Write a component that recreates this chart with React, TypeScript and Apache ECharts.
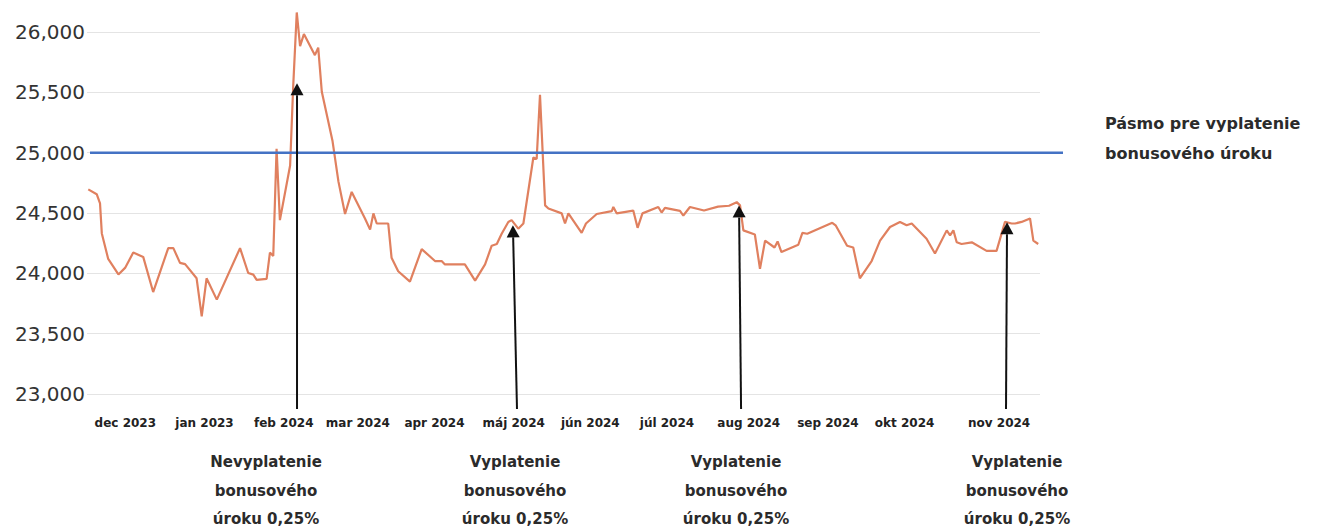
import React, { useEffect, useRef } from "react";
import * as echarts from "echarts";

// day index counted from 16 Nov 2023
const days = [
  0.5, 3.8, 5.1, 5.8, 8.3, 12.3, 14.9, 18.1, 22.0, 25.9,
  31.8, 33.8, 36.4, 38.4, 42.9, 44.9, 46.8, 50.8, 59.9, 63.1,
  65.1, 66.4, 70.3, 71.6, 72.9, 74.2, 75.5, 79.5, 80.7, 82.1,
  83.4, 84.9, 89.2, 90.5, 91.9, 96.1, 98.4, 101.0, 103.6, 108.8,
  110.8, 112.1, 113.4, 117.9, 119.2, 121.8, 126.4, 131.0, 136.2, 138.8,
  140.1, 147.9, 151.9, 155.8, 158.4, 160.4, 162.3, 164.9, 166.2, 168.8,
  170.8, 174.7, 176.0, 177.3, 179.3, 180.6, 185.8, 187.1, 188.4, 193.6,
  195.3, 199.5, 205.4, 206.0, 207.3, 213.8, 215.5, 217.4, 223.6, 224.9,
  226.2, 232.1, 233.4, 236.0, 241.5, 247.0, 251.3, 254.3, 255.6, 256.9,
  261.4, 263.4, 265.4, 269.1, 270.3, 271.8, 278.4, 280.0, 281.9, 291.7,
  293.0, 297.5, 299.9, 302.5, 307.1, 310.4, 314.3, 318.2, 320.8, 322.8,
  328.6, 331.9, 336.5, 337.8, 339.1, 340.4, 342.3, 346.3, 352.1, 356.0,
  359.3, 361.9, 363.2, 365.8, 369.1, 370.4, 372.3,
];

const values = [
  24696, 24656, 24579, 24331, 24119, 23991, 24045, 24172, 24136, 23845,
  24209, 24209, 24087, 24076, 23959, 23644, 23959, 23782, 24209, 24003,
  23989, 23946, 23954, 24172, 24144, 25032, 24441, 24894, 25547, 26162,
  25883, 25983, 25808, 25871, 25504, 25096, 24762, 24492, 24675, 24455,
  24362, 24497, 24413, 24413, 24130, 24017, 23931, 24201, 24102, 24102,
  24074, 24074, 23940, 24074, 24229, 24243, 24328, 24426, 24441, 24370,
  24413, 24960, 24947, 25480, 24563, 24537, 24497, 24413, 24497, 24335,
  24413, 24492, 24516, 24550, 24497, 24520, 24377, 24497, 24550, 24504,
  24543, 24517, 24479, 24550, 24521, 24553, 24560, 24590, 24563, 24356,
  24322, 24038, 24271, 24214, 24264, 24176, 24237, 24335, 24328, 24419,
  24398, 24229, 24214, 23959, 24102, 24271, 24384, 24426, 24398, 24413,
  24286, 24164, 24356, 24314, 24356, 24257, 24243, 24257, 24186, 24186,
  24426, 24413, 24413, 24426, 24455, 24271, 24243,
];

const monthDays = [15, 46, 77, 106, 136, 167, 197, 227, 259, 290, 320, 357];
const monthLabels = [
  "dec 2023", "jan 2023", "feb 2024", "mar 2024", "apr 2024", "máj 2024",
  "jún 2024", "júl 2024", "aug 2024", "sep 2024", "okt 2024", "nov 2024",
];

const bonusThreshold = 25000;
const thresholdLabel = ["Pásmo pre vyplatenie", "bonusového úroku"];

const arrowTipDays = [82.2, 166.7, 255.2, 360.1];
const arrowBaseDays = [82.2, 168.3, 256.0, 359.7];
const arrowTipValues = [25575, 24398, 24563, 24424];
const arrowTexts = [
  ["Nevyplatenie", "bonusového", "úroku 0,25%"],
  ["Vyplatenie", "bonusového", "úroku 0,25%"],
  ["Vyplatenie", "bonusového", "úroku 0,25%"],
  ["Vyplatenie", "bonusového", "úroku 0,25%"],
];
const textCenters = [266, 515, 736, 1017];

export default function App() {
  const ref = useRef<HTMLDivElement>(null);

  useEffect(() => {
    if (!ref.current) return;
    const chart = echarts.init(ref.current, undefined, { renderer: "svg" });
    const data = days.map((d, i) => [d, values[i]]);

    chart.setOption({
      animation: false,
      backgroundColor: "#ffffff",
      grid: { left: 87, right: 279, top: 32, bottom: 137 },
      xAxis: {
        type: "value",
        min: 0,
        max: 373,
        axisLine: { show: false },
        axisTick: { show: false },
        splitLine: { show: false },
        axisLabel: {
          customValues: monthDays,
          margin: 23,
          color: "#222222",
          fontFamily: "DejaVu Sans",
          fontWeight: "bold",
          fontSize: 12,
          formatter: (v: number) => {
            const i = monthDays.indexOf(v);
            return i >= 0 ? monthLabels[i] : "";
          },
        },
      },
      yAxis: {
        type: "value",
        min: 23000,
        max: 26000,
        interval: 500,
        axisLine: { show: false },
        axisTick: { show: false },
        splitLine: { lineStyle: { color: "#e4e4e4", width: 1 } },
        axisLabel: {
          margin: 2,
          color: "#333333",
          fontFamily: "DejaVu Sans",
          fontSize: 20,
          formatter: (v: number) => v.toLocaleString("en-US"),
        },
      },
      series: [
        {
          type: "line",
          data,
          showSymbol: false,
          clip: false,
          lineStyle: { color: "#e0805f", width: 2.2 },
          z: 3,
        },
      ],
    });

    const px = (d: number, v: number) =>
      chart.convertToPixel({ gridIndex: 0 }, [d, v]) as number[];

    const graphics: any[] = [];
    const yThr = px(0, bonusThreshold)[1];
    graphics.push({
      type: "line",
      z: 10,
      shape: { x1: 90, y1: yThr, x2: 1063, y2: yThr },
      style: { stroke: "#4472c4", lineWidth: 2.5 },
    });
    thresholdLabel.forEach((t, i) => {
      graphics.push({
        type: "text",
        z: 10,
        x: 1105,
        y: 123 + i * 30,
        style: {
          text: t,
          fill: "#2b2b2b",
          font: 'bold 16px "DejaVu Sans"',
          align: "left",
          verticalAlign: "middle",
        },
      });
    });

    arrowTipDays.forEach((d, i) => {
      const tip = px(d, arrowTipValues[i]);
      const baseX = px(arrowBaseDays[i], 23000)[0];
      const baseY = px(arrowBaseDays[i], 23000)[1] + 15;
      const headH = 12;
      const dx = tip[0] - baseX;
      const dy = tip[1] - baseY;
      const len = Math.sqrt(dx * dx + dy * dy);
      const ux = dx / len;
      const uy = dy / len;
      const hx = tip[0] - ux * headH;
      const hy = tip[1] - uy * headH;
      graphics.push({
        type: "line",
        z: 11,
        shape: { x1: baseX, y1: baseY, x2: hx, y2: hy },
        style: { stroke: "#111111", lineWidth: 2 },
      });
      graphics.push({
        type: "polygon",
        z: 11,
        shape: {
          points: [
            [tip[0], tip[1]],
            [hx - uy * 6.5, hy + ux * 6.5],
            [hx + uy * 6.5, hy - ux * 6.5],
          ],
        },
        style: { fill: "#111111" },
      });
      arrowTexts[i].forEach((t, j) => {
        graphics.push({
          type: "text",
          z: 11,
          x: textCenters[i],
          y: 462 + j * 28.5,
          style: {
            text: t,
            fill: "#2b2b2b",
            font: 'bold 15px "DejaVu Sans"',
            align: "center",
            verticalAlign: "middle",
          },
        });
      });
    });

    chart.setOption({ graphic: graphics });

    return () => chart.dispose();
  }, []);

  return (
    <div
      ref={ref}
      style={{ position: "absolute", left: 0, top: 0, width: 1319, height: 531 }}
    />
  );
}
